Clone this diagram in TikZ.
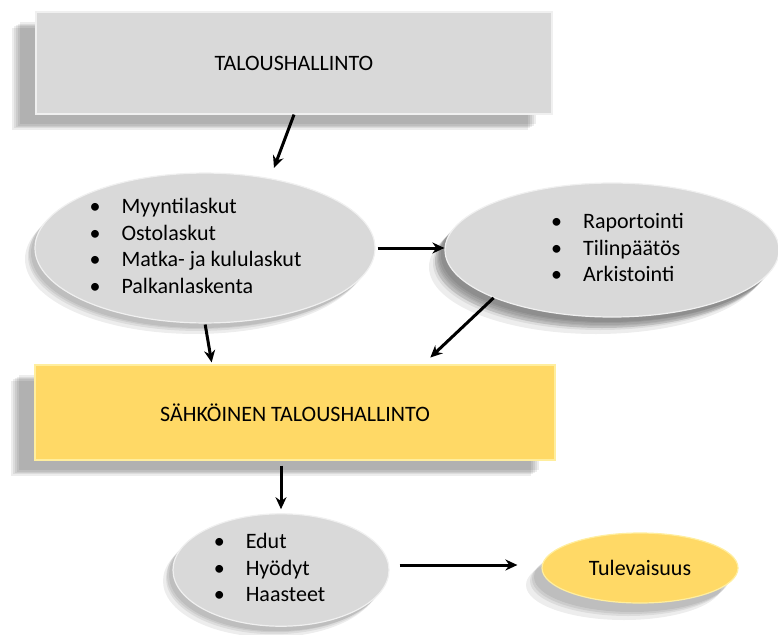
\documentclass[tikz,border=0pt]{standalone}
\usepackage{fontspec}
\setmainfont{Carlito}
\usetikzlibrary{arrows.meta,shadows,calc,shapes.geometric}
\definecolor{boxgray}{HTML}{D9D9D9}
\definecolor{gold}{HTML}{FFD966}
\definecolor{goldrim}{HTML}{FFEE9E}
\definecolor{grayrim}{HTML}{F0F0F0}
\tikzset{
  sh/.style 2 args={general shadow={fill=black,opacity=0.07,shadow xshift=#1pt,shadow yshift=#2pt}},
  boxshadow/.style={sh={-16}{-10},sh={-20}{-13},sh={-24}{-16},sh={-18}{-12},sh={-22}{-14}},
  ellshadow/.style={sh={-4}{-5},sh={-7}{-8},sh={-10}{-11},sh={-6}{-6}},
  bigellshadow/.style={sh={-8}{-9},sh={-12}{-13},sh={-16}{-17},sh={-10}{-11}},
  graybox/.style={rectangle,fill=boxgray,draw=grayrim,line width=1.2pt,inner sep=0pt,boxshadow,font=\fontsize{22}{26.5}\selectfont},
  goldbox/.style={rectangle,fill=gold,draw=goldrim,line width=1.2pt,inner sep=0pt,boxshadow,font=\fontsize{22}{26.5}\selectfont},
  grayell/.style={ellipse,fill=boxgray,draw=grayrim,line width=1.2pt,inner sep=0pt,ellshadow,font=\fontsize{22}{26.5}\selectfont},
  goldell/.style={ellipse,fill=gold,draw=goldrim,line width=1.2pt,inner sep=0pt,bigellshadow,font=\fontsize{22}{26.5}\selectfont},
  arr/.style={line width=3pt,-{Stealth[length=12pt,width=11pt]}}
}
\newcommand{\blist}[2]{\hspace*{#1}\begin{tabular}{@{}l@{\hspace{21pt}}l@{}}#2\end{tabular}}
\begin{document}
\begin{tikzpicture}[x=1pt,y=-1pt]
\useasboundingbox (0,0) rectangle (778,634);

\node[graybox,minimum width=516pt,minimum height=102pt] (top) at (294,63) {TALOUSHALLINTO};

\node[grayell,minimum width=340pt,minimum height=132pt] (e1) at (205,248)
  {\blist{-19pt}{\textbullet & Myyntilaskut\\ \textbullet & Ostolaskut\\ \textbullet & Matka- ja kululaskut\\ \textbullet & Palkanlaskenta}};

\node[grayell,bigellshadow,minimum width=334pt,minimum height=134pt] (e2) at (612,250)
  {\blist{11pt}{\textbullet & Raportointi\\ \textbullet & Tilinpäätös\\ \textbullet & Arkistointi}};

\node[goldbox,minimum width=520pt,minimum height=95pt] (yel) at (295,412.5) {SÄHKÖINEN TALOUSHALLINTO};

\node[grayell,minimum width=216pt,minimum height=106pt] (e3) at (281,570)
  {\blist{-23pt}{\textbullet & Edut\\ \textbullet & Hyödyt\\ \textbullet & Haasteet}};

\node[goldell,minimum width=196pt,minimum height=70pt] (e4) at (640,568) {Tulevaisuus};

\draw[arr,shorten >=11pt] (top.south) -- (e1.47);
\draw[arr,shorten <=2pt] (e1.east) -- (e1.east -| e2.west);
\draw[arr,shorten <=1pt,shorten >=2pt] (e1.south) -- ([xshift=-83pt]yel.north);
\draw[arr,shorten >=10pt] (e2.202) -- ([xshift=128pt]yel.north);
\draw[arr,shorten <=5pt,shorten >=4pt] (e3.north |- yel.south) -- (e3.north);
\draw[arr,shorten <=10pt,shorten >=24pt] ([yshift=5pt]e3.east) -- ([yshift=5pt]e3.east -| e4.west);
\end{tikzpicture}
\end{document}
